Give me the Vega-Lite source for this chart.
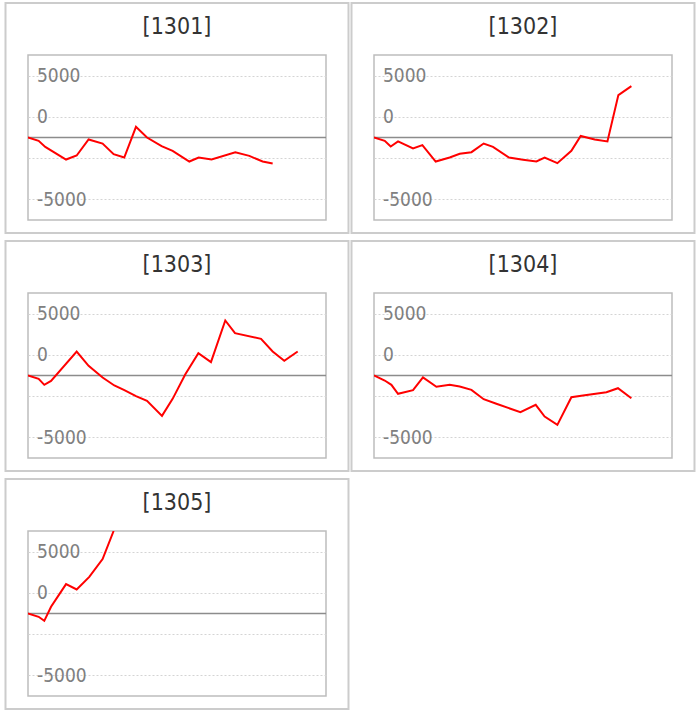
{
  "$schema": "https://vega.github.io/schema/vega-lite/v6.json",
  "padding": {"left": 3, "top": 1, "right": 0, "bottom": 0},
  "data": {
    "values": [
      {"panel": "[1301]", "t": 0, "v": 0},
      {"panel": "[1301]", "t": 1.07, "v": -410},
      {"panel": "[1301]", "t": 1.74, "v": -1140},
      {"panel": "[1301]", "t": 3.83, "v": -2670},
      {"panel": "[1301]", "t": 4.9, "v": -2180},
      {"panel": "[1301]", "t": 6.1, "v": -240},
      {"panel": "[1301]", "t": 7.51, "v": -730},
      {"panel": "[1301]", "t": 8.62, "v": -2020},
      {"panel": "[1301]", "t": 9.69, "v": -2430},
      {"panel": "[1301]", "t": 10.87, "v": 1290},
      {"panel": "[1301]", "t": 11.98, "v": 0},
      {"panel": "[1301]", "t": 13.45, "v": -1050},
      {"panel": "[1301]", "t": 14.56, "v": -1620},
      {"panel": "[1301]", "t": 16.24, "v": -2910},
      {"panel": "[1301]", "t": 17.18, "v": -2430},
      {"panel": "[1301]", "t": 18.48, "v": -2670},
      {"panel": "[1301]", "t": 20.87, "v": -1780},
      {"panel": "[1301]", "t": 22.28, "v": -2230},
      {"panel": "[1301]", "t": 23.62, "v": -2910},
      {"panel": "[1301]", "t": 24.63, "v": -3150},
      {"panel": "[1302]", "t": 0, "v": 0},
      {"panel": "[1302]", "t": 1.08, "v": -400},
      {"panel": "[1302]", "t": 1.68, "v": -1090},
      {"panel": "[1302]", "t": 2.42, "v": -480},
      {"panel": "[1302]", "t": 3.93, "v": -1330},
      {"panel": "[1302]", "t": 4.87, "v": -930},
      {"panel": "[1302]", "t": 6.21, "v": -2910},
      {"panel": "[1302]", "t": 7.62, "v": -2430},
      {"panel": "[1302]", "t": 8.63, "v": -1980},
      {"panel": "[1302]", "t": 9.81, "v": -1780},
      {"panel": "[1302]", "t": 11.04, "v": -730},
      {"panel": "[1302]", "t": 11.98, "v": -1130},
      {"panel": "[1302]", "t": 13.59, "v": -2430},
      {"panel": "[1302]", "t": 15.0, "v": -2710},
      {"panel": "[1302]", "t": 16.35, "v": -2910},
      {"panel": "[1302]", "t": 17.18, "v": -2430},
      {"panel": "[1302]", "t": 18.46, "v": -3110},
      {"panel": "[1302]", "t": 19.87, "v": -1620},
      {"panel": "[1302]", "t": 20.81, "v": 190},
      {"panel": "[1302]", "t": 22.22, "v": -240},
      {"panel": "[1302]", "t": 23.5, "v": -480},
      {"panel": "[1302]", "t": 24.6, "v": 5140},
      {"panel": "[1302]", "t": 25.91, "v": 6230},
      {"panel": "[1303]", "t": 0, "v": 0},
      {"panel": "[1303]", "t": 1.07, "v": -400},
      {"panel": "[1303]", "t": 1.64, "v": -1130},
      {"panel": "[1303]", "t": 2.32, "v": -650},
      {"panel": "[1303]", "t": 4.9, "v": 2910},
      {"panel": "[1303]", "t": 6.1, "v": 1170},
      {"panel": "[1303]", "t": 7.51, "v": -240},
      {"panel": "[1303]", "t": 8.69, "v": -1210},
      {"panel": "[1303]", "t": 9.7, "v": -1780},
      {"panel": "[1303]", "t": 10.87, "v": -2500},
      {"panel": "[1303]", "t": 11.98, "v": -3070},
      {"panel": "[1303]", "t": 13.49, "v": -4890},
      {"panel": "[1303]", "t": 14.56, "v": -2830},
      {"panel": "[1303]", "t": 15.84, "v": 160},
      {"panel": "[1303]", "t": 17.15, "v": 2710},
      {"panel": "[1303]", "t": 18.42, "v": 1620},
      {"panel": "[1303]", "t": 19.86, "v": 6670},
      {"panel": "[1303]", "t": 20.84, "v": 5130},
      {"panel": "[1303]", "t": 23.46, "v": 4440},
      {"panel": "[1303]", "t": 24.63, "v": 2910},
      {"panel": "[1303]", "t": 25.8, "v": 1780},
      {"panel": "[1303]", "t": 27.15, "v": 2910},
      {"panel": "[1304]", "t": 0, "v": 0},
      {"panel": "[1304]", "t": 1.08, "v": -610},
      {"panel": "[1304]", "t": 1.75, "v": -1130},
      {"panel": "[1304]", "t": 2.42, "v": -2220},
      {"panel": "[1304]", "t": 3.93, "v": -1780},
      {"panel": "[1304]", "t": 4.93, "v": -240},
      {"panel": "[1304]", "t": 6.28, "v": -1370},
      {"panel": "[1304]", "t": 7.62, "v": -1130},
      {"panel": "[1304]", "t": 8.63, "v": -1330},
      {"panel": "[1304]", "t": 9.81, "v": -1740},
      {"panel": "[1304]", "t": 11.04, "v": -2870},
      {"panel": "[1304]", "t": 12.32, "v": -3430},
      {"panel": "[1304]", "t": 14.74, "v": -4440},
      {"panel": "[1304]", "t": 16.28, "v": -3560},
      {"panel": "[1304]", "t": 17.18, "v": -4970},
      {"panel": "[1304]", "t": 18.46, "v": -5980},
      {"panel": "[1304]", "t": 19.87, "v": -2630},
      {"panel": "[1304]", "t": 21.04, "v": -2420},
      {"panel": "[1304]", "t": 23.4, "v": -2020},
      {"panel": "[1304]", "t": 24.56, "v": -1540},
      {"panel": "[1304]", "t": 25.91, "v": -2750},
      {"panel": "[1305]", "t": 0, "v": 0},
      {"panel": "[1305]", "t": 1.07, "v": -400},
      {"panel": "[1305]", "t": 1.64, "v": -890},
      {"panel": "[1305]", "t": 2.32, "v": 810},
      {"panel": "[1305]", "t": 3.83, "v": 3560},
      {"panel": "[1305]", "t": 4.9, "v": 2910},
      {"panel": "[1305]", "t": 6.17, "v": 4440},
      {"panel": "[1305]", "t": 7.51, "v": 6590},
      {"panel": "[1305]", "t": 8.62, "v": 10000}
    ]
  },
  "columns": 2,
  "bounds": "flush",
  "spacing": {"row": 73, "column": 48},
  "concat": [
    {
      "transform": [{"filter": {"field": "panel", "equal": "[1301]"}}],
      "width": 298, "height": 165,
      "layer": [
        {"transform": [{"aggregate": [{"op": "count", "as": "n"}], "groupby": ["panel"]}], "mark": {"type": "rule", "color": "#8c8c8c", "strokeWidth": 1.5}, "encoding": {"x": {"datum": 0, "scale": {"domain": [0, 30], "nice": false}, "axis": null}, "x2": {"datum": 30}, "y": {"datum": 0, "scale": {"domain": [-10000, 10000], "nice": false}, "axis": {"title": null}}}},
        {"mark": {"type": "line", "color": "#ff0000", "strokeWidth": 2, "clip": true}, "encoding": {"x": {"field": "t", "type": "quantitative", "scale": {"domain": [0, 30], "nice": false}, "axis": null}, "y": {"field": "v", "type": "quantitative", "scale": {"domain": [-10000, 10000], "nice": false}, "axis": {"title": null, "values": [-7500, -5000, -2500, 0, 2500, 5000, 7500], "labelExpr": "datum.value == 7500 ? '5000' : datum.value == 2500 ? '0' : datum.value == -7500 ? '-5000' : ''"}}}},
        {"transform": [{"aggregate": [{"op": "count", "as": "n"}], "groupby": ["panel"]}], "mark": {"type": "rect", "fill": "transparent", "stroke": "#cccccc", "strokeWidth": 2, "clip": false}, "encoding": {"x": {"datum": -2.265, "scale": {"domain": [0, 30], "nice": false}, "axis": null}, "x2": {"datum": 32.265}, "y": {"datum": 16300, "scale": {"domain": [-10000, 10000], "nice": false}, "axis": {"title": null}}, "y2": {"datum": -11580}}},
        {"transform": [{"aggregate": [{"op": "count", "as": "n"}], "groupby": ["panel"]}], "mark": {"type": "text", "font": "DejaVu Sans Condensed, Liberation Sans", "fontSize": 23, "color": "#333333", "align": "center", "baseline": "middle", "clip": false}, "encoding": {"x": {"datum": 15, "scale": {"domain": [0, 30], "nice": false}, "axis": null}, "y": {"datum": 13450, "scale": {"domain": [-10000, 10000], "nice": false}, "axis": {"title": null}}, "text": {"field": "panel", "type": "nominal"}}}
      ]
    },
    {
      "transform": [{"filter": {"field": "panel", "equal": "[1302]"}}],
      "width": 298, "height": 165,
      "layer": [
        {"transform": [{"aggregate": [{"op": "count", "as": "n"}], "groupby": ["panel"]}], "mark": {"type": "rule", "color": "#8c8c8c", "strokeWidth": 1.5}, "encoding": {"x": {"datum": 0, "scale": {"domain": [0, 30], "nice": false}, "axis": null}, "x2": {"datum": 30}, "y": {"datum": 0, "scale": {"domain": [-10000, 10000], "nice": false}, "axis": {"title": null}}}},
        {"mark": {"type": "line", "color": "#ff0000", "strokeWidth": 2, "clip": true}, "encoding": {"x": {"field": "t", "type": "quantitative", "scale": {"domain": [0, 30], "nice": false}, "axis": null}, "y": {"field": "v", "type": "quantitative", "scale": {"domain": [-10000, 10000], "nice": false}, "axis": {"title": null, "values": [-7500, -5000, -2500, 0, 2500, 5000, 7500], "labelExpr": "datum.value == 7500 ? '5000' : datum.value == 2500 ? '0' : datum.value == -7500 ? '-5000' : ''"}}}},
        {"transform": [{"aggregate": [{"op": "count", "as": "n"}], "groupby": ["panel"]}], "mark": {"type": "rect", "fill": "transparent", "stroke": "#cccccc", "strokeWidth": 2, "clip": false}, "encoding": {"x": {"datum": -2.265, "scale": {"domain": [0, 30], "nice": false}, "axis": null}, "x2": {"datum": 32.265}, "y": {"datum": 16300, "scale": {"domain": [-10000, 10000], "nice": false}, "axis": {"title": null}}, "y2": {"datum": -11580}}},
        {"transform": [{"aggregate": [{"op": "count", "as": "n"}], "groupby": ["panel"]}], "mark": {"type": "text", "font": "DejaVu Sans Condensed, Liberation Sans", "fontSize": 23, "color": "#333333", "align": "center", "baseline": "middle", "clip": false}, "encoding": {"x": {"datum": 15, "scale": {"domain": [0, 30], "nice": false}, "axis": null}, "y": {"datum": 13450, "scale": {"domain": [-10000, 10000], "nice": false}, "axis": {"title": null}}, "text": {"field": "panel", "type": "nominal"}}}
      ]
    },
    {
      "transform": [{"filter": {"field": "panel", "equal": "[1303]"}}],
      "width": 298, "height": 165,
      "layer": [
        {"transform": [{"aggregate": [{"op": "count", "as": "n"}], "groupby": ["panel"]}], "mark": {"type": "rule", "color": "#8c8c8c", "strokeWidth": 1.5}, "encoding": {"x": {"datum": 0, "scale": {"domain": [0, 30], "nice": false}, "axis": null}, "x2": {"datum": 30}, "y": {"datum": 0, "scale": {"domain": [-10000, 10000], "nice": false}, "axis": {"title": null}}}},
        {"mark": {"type": "line", "color": "#ff0000", "strokeWidth": 2, "clip": true}, "encoding": {"x": {"field": "t", "type": "quantitative", "scale": {"domain": [0, 30], "nice": false}, "axis": null}, "y": {"field": "v", "type": "quantitative", "scale": {"domain": [-10000, 10000], "nice": false}, "axis": {"title": null, "values": [-7500, -5000, -2500, 0, 2500, 5000, 7500], "labelExpr": "datum.value == 7500 ? '5000' : datum.value == 2500 ? '0' : datum.value == -7500 ? '-5000' : ''"}}}},
        {"transform": [{"aggregate": [{"op": "count", "as": "n"}], "groupby": ["panel"]}], "mark": {"type": "rect", "fill": "transparent", "stroke": "#cccccc", "strokeWidth": 2, "clip": false}, "encoding": {"x": {"datum": -2.265, "scale": {"domain": [0, 30], "nice": false}, "axis": null}, "x2": {"datum": 32.265}, "y": {"datum": 16300, "scale": {"domain": [-10000, 10000], "nice": false}, "axis": {"title": null}}, "y2": {"datum": -11580}}},
        {"transform": [{"aggregate": [{"op": "count", "as": "n"}], "groupby": ["panel"]}], "mark": {"type": "text", "font": "DejaVu Sans Condensed, Liberation Sans", "fontSize": 23, "color": "#333333", "align": "center", "baseline": "middle", "clip": false}, "encoding": {"x": {"datum": 15, "scale": {"domain": [0, 30], "nice": false}, "axis": null}, "y": {"datum": 13450, "scale": {"domain": [-10000, 10000], "nice": false}, "axis": {"title": null}}, "text": {"field": "panel", "type": "nominal"}}}
      ]
    },
    {
      "transform": [{"filter": {"field": "panel", "equal": "[1304]"}}],
      "width": 298, "height": 165,
      "layer": [
        {"transform": [{"aggregate": [{"op": "count", "as": "n"}], "groupby": ["panel"]}], "mark": {"type": "rule", "color": "#8c8c8c", "strokeWidth": 1.5}, "encoding": {"x": {"datum": 0, "scale": {"domain": [0, 30], "nice": false}, "axis": null}, "x2": {"datum": 30}, "y": {"datum": 0, "scale": {"domain": [-10000, 10000], "nice": false}, "axis": {"title": null}}}},
        {"mark": {"type": "line", "color": "#ff0000", "strokeWidth": 2, "clip": true}, "encoding": {"x": {"field": "t", "type": "quantitative", "scale": {"domain": [0, 30], "nice": false}, "axis": null}, "y": {"field": "v", "type": "quantitative", "scale": {"domain": [-10000, 10000], "nice": false}, "axis": {"title": null, "values": [-7500, -5000, -2500, 0, 2500, 5000, 7500], "labelExpr": "datum.value == 7500 ? '5000' : datum.value == 2500 ? '0' : datum.value == -7500 ? '-5000' : ''"}}}},
        {"transform": [{"aggregate": [{"op": "count", "as": "n"}], "groupby": ["panel"]}], "mark": {"type": "rect", "fill": "transparent", "stroke": "#cccccc", "strokeWidth": 2, "clip": false}, "encoding": {"x": {"datum": -2.265, "scale": {"domain": [0, 30], "nice": false}, "axis": null}, "x2": {"datum": 32.265}, "y": {"datum": 16300, "scale": {"domain": [-10000, 10000], "nice": false}, "axis": {"title": null}}, "y2": {"datum": -11580}}},
        {"transform": [{"aggregate": [{"op": "count", "as": "n"}], "groupby": ["panel"]}], "mark": {"type": "text", "font": "DejaVu Sans Condensed, Liberation Sans", "fontSize": 23, "color": "#333333", "align": "center", "baseline": "middle", "clip": false}, "encoding": {"x": {"datum": 15, "scale": {"domain": [0, 30], "nice": false}, "axis": null}, "y": {"datum": 13450, "scale": {"domain": [-10000, 10000], "nice": false}, "axis": {"title": null}}, "text": {"field": "panel", "type": "nominal"}}}
      ]
    },
    {
      "transform": [{"filter": {"field": "panel", "equal": "[1305]"}}],
      "width": 298, "height": 165,
      "layer": [
        {"transform": [{"aggregate": [{"op": "count", "as": "n"}], "groupby": ["panel"]}], "mark": {"type": "rule", "color": "#8c8c8c", "strokeWidth": 1.5}, "encoding": {"x": {"datum": 0, "scale": {"domain": [0, 30], "nice": false}, "axis": null}, "x2": {"datum": 30}, "y": {"datum": 0, "scale": {"domain": [-10000, 10000], "nice": false}, "axis": {"title": null}}}},
        {"mark": {"type": "line", "color": "#ff0000", "strokeWidth": 2, "clip": true}, "encoding": {"x": {"field": "t", "type": "quantitative", "scale": {"domain": [0, 30], "nice": false}, "axis": null}, "y": {"field": "v", "type": "quantitative", "scale": {"domain": [-10000, 10000], "nice": false}, "axis": {"title": null, "values": [-7500, -5000, -2500, 0, 2500, 5000, 7500], "labelExpr": "datum.value == 7500 ? '5000' : datum.value == 2500 ? '0' : datum.value == -7500 ? '-5000' : ''"}}}},
        {"transform": [{"aggregate": [{"op": "count", "as": "n"}], "groupby": ["panel"]}], "mark": {"type": "rect", "fill": "transparent", "stroke": "#cccccc", "strokeWidth": 2, "clip": false}, "encoding": {"x": {"datum": -2.265, "scale": {"domain": [0, 30], "nice": false}, "axis": null}, "x2": {"datum": 32.265}, "y": {"datum": 16300, "scale": {"domain": [-10000, 10000], "nice": false}, "axis": {"title": null}}, "y2": {"datum": -11580}}},
        {"transform": [{"aggregate": [{"op": "count", "as": "n"}], "groupby": ["panel"]}], "mark": {"type": "text", "font": "DejaVu Sans Condensed, Liberation Sans", "fontSize": 23, "color": "#333333", "align": "center", "baseline": "middle", "clip": false}, "encoding": {"x": {"datum": 15, "scale": {"domain": [0, 30], "nice": false}, "axis": null}, "y": {"datum": 13450, "scale": {"domain": [-10000, 10000], "nice": false}, "axis": {"title": null}}, "text": {"field": "panel", "type": "nominal"}}}
      ]
    }
  ],
  "config": {
    "view": {"stroke": "#bdbdbd", "strokeWidth": 1.5},
    "axisY": {
      "domain": false,
      "ticks": false,
      "grid": true,
      "gridColor": "#d4d4d4",
      "gridDash": [2, 2],
      "gridWidth": 1,
      "labelAlign": "left",
      "labelBaseline": "middle",
      "labelPadding": -8.5,
      "labelFont": "DejaVu Sans Condensed, Liberation Sans",
      "labelFontSize": 19,
      "labelColor": "#808080",
      "labelOverlap": false
    }
  }
}
